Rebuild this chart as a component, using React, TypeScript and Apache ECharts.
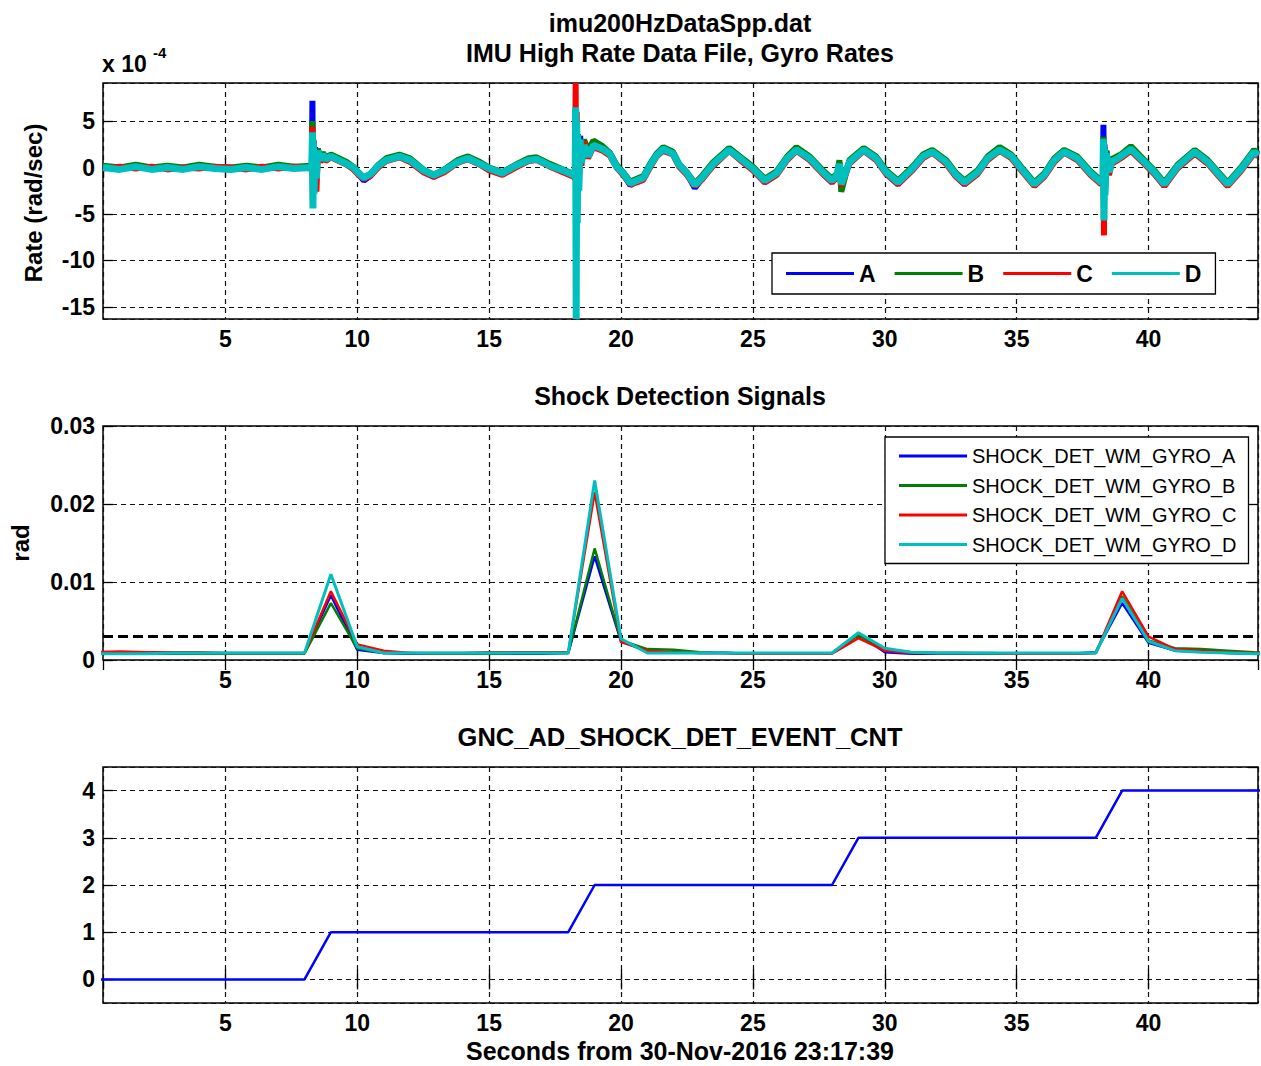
import React, { useEffect, useRef } from "react";
import * as echarts from "echarts";

const FONT = "'Liberation Sans', Arial, sans-serif";

// ---------- Panel 1: gyro rates (x 1e-4 rad/sec) ----------
const gyroTime = [
  0.36, 1.0, 1.6, 2.2, 2.8, 3.4, 4.0, 4.6, 5.2, 5.8, 6.4, 7.0, 7.6, 8.25,
  8.28, 8.30, 8.32, 8.34, 8.36, 8.40, 8.45, 8.50, 8.60, 8.70,
  8.80, 9.00, 9.30, 9.60, 9.85, 10.05, 10.25, 10.50, 10.80, 11.10,
  11.60, 12.00, 12.50, 12.90, 13.30, 13.80, 14.20, 14.65, 15.00, 15.50,
  16.00, 16.50, 16.80, 17.30, 17.80, 18.20,
  18.26, 18.28, 18.30, 18.32, 18.34, 18.36, 18.40, 18.45, 18.50, 18.60,
  18.75, 18.95, 19.30, 19.57, 19.83, 20.08, 20.35, 20.60, 20.85,
  21.10, 21.35, 21.60, 21.97, 22.20, 22.50, 22.80, 23.10,
  23.50, 24.10, 24.60, 25.00, 25.45, 25.90, 26.30, 26.65, 27.15, 27.65, 28.00, 28.20,
  28.28, 28.35, 28.66, 29.20, 29.67, 30.05, 30.50, 31.05, 31.45, 31.80, 32.33,
  32.70, 33.02, 33.52, 33.90, 34.35, 34.80, 35.17, 35.67, 36.05, 36.43, 36.80, 37.30, 37.80, 38.20,
  38.27, 38.29, 38.31, 38.33, 38.35, 38.40, 38.50, 38.60, 38.95, 39.33,
  39.84, 40.22, 40.60, 41.10, 41.75, 42.25, 42.62, 43.00, 43.50, 44.00, 44.15,
];

const gyroA = [
  0.1, -0.1, 0.2, -0.1, 0.1, -0.1, 0.2, 0.0, -0.1, 0.1, -0.1, 0.2, 0.0, 0.1,
  0.5, 7.2, -3.0, 3.0, -2.0, 2.2, -0.8, 2.0, 1.0, 1.5,
  1.0, 1.3, 0.9, 0.5, 0.0, -0.7, -1.4, -0.9, 0.2, 0.9,
  1.3, 0.8, -0.4, -1.0, -0.4, 0.7, 1.1, 0.4, -0.2, -0.7,
  0.2, 0.9, 1.0, 0.3, -0.3, -0.9,
  -1.1, 5.5, -7.1, 4.0, -4.5, 3.6, -1.5, 3.4, 1.0, 2.6,
  1.5, 2.5, 2.1, 1.6, 0.2, -0.7, -1.9, -1.5, -1.2,
  0.2, 1.4, 2.1, 1.6, 0.3, -0.7, -2.2, -1.1,
  0.4, 2.1, 0.9, -0.1, -1.6, -0.7, 1.0, 2.0, 1.1, -0.6, -1.6, -0.9,
  0.5, -1.9, 0.6, 2.0, 1.1, -0.6, -1.8, -0.1, 1.3, 1.8, 0.6,
  -0.9, -1.8, -0.6, 1.0, 2.0, 1.2, -0.1, -1.9, -0.9, 0.8, 1.8, 1.1, -0.7, -1.7,
  -1.3, 4.6, -4.0, 2.5, -2.2, 1.8, -0.3, 0.8, 1.3, 2.1,
  0.6, -0.6, -2.0, 0.1, 1.8, 0.6, -0.7, -1.9, -0.2, 1.8, 1.4,
];

const gyroB = [
  0.2, 0.0, 0.3, 0.0, 0.2, 0.0, 0.3, 0.1, 0.0, 0.2, 0.0, 0.3, 0.1, 0.2,
  0.4, 5.0, -2.5, 2.8, -1.8, 1.8, -0.6, 2.0, 1.2, 1.6,
  1.1, 1.4, 1.0, 0.6, 0.1, -0.5, -1.2, -0.7, 0.3, 1.0,
  1.4, 1.0, -0.2, -0.8, -0.2, 0.8, 1.2, 0.6, 0.0, -0.5,
  0.3, 1.0, 1.1, 0.4, -0.2, -0.7,
  -0.9, 5.0, -2.5, 4.0, -2.0, 3.0, -1.0, 3.0, 1.5, 3.0,
  1.8, 2.9, 2.3, 1.6, 0.3, -0.5, -1.5, -1.2, -0.9,
  0.4, 1.5, 2.2, 1.7, 0.4, -0.5, -1.7, -0.8,
  0.6, 2.1, 1.0, 0.1, -1.2, -0.4, 1.2, 2.2, 1.2, -0.3, -1.2, -0.6,
  0.8, -2.6, 0.8, 2.1, 1.2, -0.3, -1.4, 0.1, 1.4, 1.9, 0.8,
  -0.6, -1.4, -0.3, 1.2, 2.2, 1.4, 0.1, -1.6, -0.6, 1.0, 1.9, 1.2, -0.4, -1.4,
  -1.0, 3.3, -3.5, 2.2, -2.0, 1.8, -0.2, 0.9, 1.4, 2.3,
  0.8, -0.3, -1.6, 0.3, 1.9, 0.8, -0.4, -1.6, 0.0, 1.9, 1.5,
];

const gyroC = [
  -0.1, 0.1, -0.1, 0.1, -0.2, 0.0, -0.1, 0.1, 0.0, -0.2, 0.1, -0.1, 0.1, -0.1,
  0.2, 4.4, -3.7, 2.0, -2.6, 1.2, -2.6, 1.0, 0.6, 1.2,
  0.7, 1.1, 0.7, 0.3, -0.2, -0.8, -1.2, -0.9, 0.0, 0.7,
  1.1, 0.6, -0.5, -1.0, -0.5, 0.5, 0.9, 0.3, -0.3, -0.8,
  0.0, 0.7, 0.8, 0.1, -0.5, -1.0,
  -1.2, 9.1, -3.0, 6.0, -3.5, 3.0, -2.0, 2.6, 0.2, 2.8,
  1.0, 2.2, 1.8, 1.3, 0.0, -0.8, -1.8, -1.6, -1.3,
  0.0, 1.2, 1.8, 1.4, 0.1, -0.8, -2.0, -1.2,
  0.2, 1.8, 0.6, -0.3, -1.6, -0.8, 0.8, 1.8, 0.8, -0.7, -1.6, -1.0,
  0.2, -2.0, 0.4, 1.8, 0.8, -0.7, -1.8, -0.3, 1.0, 1.6, 0.4,
  -1.0, -1.8, -0.7, 0.8, 1.8, 1.0, -0.3, -2.0, -1.0, 0.6, 1.6, 0.8, -0.8, -1.8,
  -1.4, 2.5, -7.3, 1.5, -2.5, 1.2, -0.8, 0.4, 1.0, 1.8,
  0.4, -0.7, -2.0, -0.1, 1.5, 0.4, -0.8, -2.0, -0.4, 1.5, 1.2,
];

const gyroD = [
  0.0, -0.2, 0.1, -0.2, 0.0, -0.2, 0.1, -0.1, -0.2, 0.0, -0.2, 0.1, -0.1, 0.0,
  0.4, 3.8, -4.4, 2.6, -2.8, 1.6, -1.2, 1.8, 0.8, 1.4,
  0.9, 1.2, 0.8, 0.4, 0.0, -0.6, -1.1, -0.7, 0.2, 0.8,
  1.2, 0.8, -0.3, -0.8, -0.3, 0.6, 1.0, 0.4, -0.1, -0.6,
  0.2, 0.8, 0.9, 0.2, -0.3, -0.8,
  -1.0, 6.5, -16.3, 5.0, -6.0, 3.5, -2.5, 3.0, 0.5, 2.4,
  1.2, 2.4, 2.0, 1.5, 0.1, -0.6, -1.7, -1.4, -1.1,
  0.2, 1.3, 2.0, 1.5, 0.3, -0.6, -1.9, -1.0,
  0.4, 1.9, 0.8, -0.1, -1.4, -0.6, 1.0, 1.9, 1.0, -0.5, -1.4, -0.8,
  0.4, -1.8, 0.6, 1.9, 1.0, -0.5, -1.6, -0.1, 1.2, 1.7, 0.6,
  -0.8, -1.6, -0.5, 1.0, 1.9, 1.2, -0.1, -1.8, -0.8, 0.8, 1.7, 1.0, -0.6, -1.6,
  -1.2, 3.1, -5.7, 2.0, -3.0, 1.5, -0.5, 0.6, 1.2, 2.0,
  0.6, -0.5, -1.8, 0.1, 1.7, 0.6, -0.6, -1.8, -0.2, 1.7, 1.3,
];

const gyroNames = ["A", "B", "C", "D"];

// ---------- Panel 2: shock detection signals (rad) ----------
const shockTime = [
  0, 1, 2, 3, 4, 5, 6, 7, 8, 9,
  10, 11, 12, 13, 14, 15, 16, 17, 18, 19,
  20, 21, 22, 23, 24, 25, 26, 27, 28, 29,
  30, 31, 32, 33, 34, 35, 36, 37, 38, 39,
  40, 41, 42, 43, 44, 45,
];
const shockA = [
  0.0008, 0.0008, 0.0008, 0.0008, 0.0008, 0.0008, 0.0008, 0.0008, 0.0009, 0.0083,
  0.0013, 0.0009, 0.0008, 0.0008, 0.0008, 0.0008, 0.0008, 0.0008, 0.0009, 0.0133,
  0.0024, 0.0011, 0.0010, 0.0009, 0.0009, 0.0008, 0.0008, 0.0008, 0.0009, 0.0033,
  0.0010, 0.0008, 0.0008, 0.0008, 0.0008, 0.0008, 0.0008, 0.0008, 0.0010, 0.0073,
  0.0022, 0.0012, 0.0011, 0.0009, 0.0008, 0.0008,
];
const shockB = [
  0.0009, 0.0009, 0.0008, 0.0008, 0.0008, 0.0008, 0.0008, 0.0008, 0.0008, 0.0073,
  0.0015, 0.0009, 0.0009, 0.0008, 0.0008, 0.0008, 0.0009, 0.0009, 0.0009, 0.0143,
  0.0025, 0.0014, 0.0013, 0.0010, 0.0009, 0.0008, 0.0008, 0.0008, 0.0009, 0.0032,
  0.0013, 0.0010, 0.0009, 0.0009, 0.0008, 0.0008, 0.0008, 0.0008, 0.0009, 0.0082,
  0.0025, 0.0015, 0.0014, 0.0012, 0.0010, 0.0009,
];
const shockC = [
  0.0010, 0.0011, 0.0010, 0.0010, 0.0010, 0.0009, 0.0009, 0.0009, 0.0009, 0.0088,
  0.0020, 0.0012, 0.0009, 0.0009, 0.0009, 0.0010, 0.0010, 0.0010, 0.0010, 0.0215,
  0.0023, 0.0012, 0.0010, 0.0009, 0.0009, 0.0008, 0.0008, 0.0008, 0.0008, 0.0028,
  0.0012, 0.0009, 0.0009, 0.0009, 0.0009, 0.0008, 0.0008, 0.0008, 0.0009, 0.0088,
  0.0030, 0.0014, 0.0012, 0.0010, 0.0009, 0.0009,
];
const shockD = [
  0.0008, 0.0008, 0.0008, 0.0009, 0.0009, 0.0009, 0.0009, 0.0009, 0.0009, 0.0110,
  0.0017, 0.0009, 0.0009, 0.0009, 0.0009, 0.0009, 0.0009, 0.0009, 0.0009, 0.0230,
  0.0027, 0.0009, 0.0009, 0.0009, 0.0009, 0.0009, 0.0009, 0.0009, 0.0009, 0.0035,
  0.0015, 0.0010, 0.0009, 0.0009, 0.0009, 0.0009, 0.0009, 0.0009, 0.0009, 0.0079,
  0.0024, 0.0012, 0.0010, 0.0009, 0.0008, 0.0008,
];
const shockNames = [
  "SHOCK_DET_WM_GYRO_A",
  "SHOCK_DET_WM_GYRO_B",
  "SHOCK_DET_WM_GYRO_C",
  "SHOCK_DET_WM_GYRO_D",
];
const shockThreshold = 0.003;

// ---------- Panel 3: event count ----------
const eventCount = [
  0, 0, 0, 0, 0, 0, 0, 0, 0, 1,
  1, 1, 1, 1, 1, 1, 1, 1, 1, 2,
  2, 2, 2, 2, 2, 2, 2, 2, 2, 3,
  3, 3, 3, 3, 3, 3, 3, 3, 3, 4,
  4, 4, 4, 4, 4, 4,
];

const COLORS = ["#0000ff", "#008000", "#ff0000", "#00bfbf"];
const X_MIN = 0.36;
const X_MAX = 44.15;

const zip = (xs: number[], ys: number[]) => xs.map((x, i) => [x, ys[i]]);

const gridLine = { show: true, lineStyle: { color: "#111", type: [5, 4] as any, width: 1.2 } };
const tickStyle = { show: true, inside: true, length: 10, lineStyle: { color: "#000", width: 1.3 } };
const labelBase = { color: "#000", fontSize: 23, fontWeight: "bold" as const, fontFamily: FONT };

function multipleFmt(step: number) {
  return (v: number) => {
    const r = v / step;
    return Math.abs(r - Math.round(r)) < 1e-6 ? String(+v.toFixed(4)) : "";
  };
}

function xPair(gridIndex: number) {
  const common = { type: "value" as const, gridIndex, min: X_MIN, max: X_MAX, minInterval: 5, maxInterval: 5 };
  return [
    {
      ...common,
      position: "bottom",
      axisLine: { show: false },
      axisTick: tickStyle,
      axisLabel: { ...labelBase, margin: 8, showMinLabel: false, showMaxLabel: false, formatter: multipleFmt(5) },
      splitLine: gridLine,
    },
    {
      ...common,
      position: "top",
      axisLine: { show: false },
      axisTick: tickStyle,
      axisLabel: { show: false },
      splitLine: { show: false },
    },
  ];
}

function yPair(gridIndex: number, min: number, max: number, step: number) {
  const common: any = { type: "value", gridIndex, min, max };
  if ((min / step) % 1 === 0) common.interval = step;
  else {
    common.minInterval = step;
    common.maxInterval = step;
  }
  return [
    {
      ...common,
      position: "left",
      axisLine: { show: false },
      axisTick: tickStyle,
      axisLabel: { ...labelBase, margin: 8, showMinLabel: (min / step) % 1 === 0, showMaxLabel: (max / step) % 1 === 0, formatter: multipleFmt(step) },
      splitLine: gridLine,
    },
    {
      ...common,
      position: "right",
      axisLine: { show: false },
      axisTick: tickStyle,
      axisLabel: { show: false },
      splitLine: { show: false },
    },
  ];
}

function txt(text: string, x: number, y: number, size: number, extra: any = {}) {
  return {
    type: "text",
    x,
    y,
    z: 10,
    ...extra,
    style: {
      text,
      fill: "#000",
      fontSize: size,
      fontWeight: extra.weight || "bold",
      fontFamily: FONT,
      align: extra.align || "center",
      verticalAlign: "middle",
    },
  };
}

export default function App() {
  const ref = useRef<HTMLDivElement>(null);
  useEffect(() => {
    document.body.style.margin = "0";
    const chart = echarts.init(ref.current!, null, { renderer: "svg" });
    const gridBase = { show: true, borderColor: "#000", borderWidth: 1.5, backgroundColor: "#fff", containLabel: false };
    const gyroData = [gyroA, gyroB, gyroC, gyroD];
    const shockData = [shockA, shockB, shockC, shockD];

    const series: any[] = [];
    gyroNames.forEach((n, i) => {
      series.push({
        name: n,
        type: "line",
        xAxisIndex: 0,
        yAxisIndex: 0,
        data: zip(gyroTime, gyroData[i]),
        showSymbol: false,
        symbol: "none",
        color: COLORS[i],
        lineStyle: { color: COLORS[i], width: i === 3 ? 7 : 6 },
        z: 2 + i,
      });
    });
    series.push({
      name: "threshold",
      type: "line",
      xAxisIndex: 2,
      yAxisIndex: 2,
      data: [
        [X_MIN, shockThreshold],
        [X_MAX, shockThreshold],
      ],
      showSymbol: false,
      symbol: "none",
      color: "#000",
      lineStyle: { color: "#000", type: [10, 5], width: 3 },
      z: 1,
    });
    shockNames.forEach((n, i) => {
      series.push({
        name: n,
        type: "line",
        xAxisIndex: 2,
        yAxisIndex: 2,
        data: zip(shockTime, shockData[i]),
        showSymbol: false,
        symbol: "none",
        color: COLORS[i],
        lineStyle: { color: COLORS[i], width: i === 3 ? 3 : 2.5 },
        z: 2 + i,
      });
    });
    series.push({
      name: "GNC_AD_SHOCK_DET_EVENT_CNT",
      type: "line",
      xAxisIndex: 4,
      yAxisIndex: 4,
      data: zip(shockTime, eventCount),
      showSymbol: false,
      symbol: "none",
      color: COLORS[0],
      lineStyle: { color: COLORS[0], width: 2.5 },
    });

    const option: any = {
      animation: false,
      backgroundColor: "#fff",
      textStyle: { fontFamily: FONT },
      grid: [
        { ...gridBase, left: 103, top: 83, width: 1155, height: 236 },
        { ...gridBase, left: 103, top: 426, width: 1155, height: 234 },
        { ...gridBase, left: 103, top: 767, width: 1155, height: 236 },
      ],
      xAxis: [...xPair(0), ...xPair(1), ...xPair(2)],
      yAxis: [...yPair(0, -16.3, 9.1, 5), ...yPair(1, 0, 0.03, 0.01), ...yPair(2, -0.5, 4.5, 1)],
      legend: [
        {
          data: gyroNames,
          orient: "horizontal",
          left: 772,
          top: 253,
          icon: "rect",
          itemWidth: 68,
          itemHeight: 3,
          itemGap: 19,
          padding: [9, 14, 9, 14],
          borderColor: "#000",
          borderWidth: 1.3,
          backgroundColor: "#fff",
          selectedMode: false,
          textStyle: { color: "#000", fontSize: 23, fontWeight: "bold", fontFamily: FONT },
        },
        {
          data: shockNames,
          orient: "vertical",
          left: 885,
          top: 437,
          icon: "rect",
          itemWidth: 68,
          itemHeight: 3,
          itemGap: 9.5,
          padding: [9, 12, 9, 14],
          borderColor: "#000",
          borderWidth: 1.3,
          backgroundColor: "#fff",
          selectedMode: false,
          textStyle: { color: "#000", fontSize: 20, lineHeight: 20, fontFamily: FONT },
        },
      ],
      graphic: [
        txt("imu200HzDataSpp.dat", 680, 23, 25),
        txt("IMU High Rate Data File, Gyro Rates", 680, 53, 25),
        txt("x 10", 102, 64, 23, { align: "left" }),
        txt("-4", 153, 52, 15, { align: "left" }),
        txt("Rate (rad/sec)", 33, 203, 24, { rotation: Math.PI / 2 }),
        txt("Shock Detection Signals", 680, 396, 25),
        txt("rad", 20, 543, 24, { rotation: Math.PI / 2 }),
        txt("GNC_AD_SHOCK_DET_EVENT_CNT", 680, 737, 25.5),
        txt("Seconds from 30-Nov-2016 23:17:39", 680, 1051, 25),
      ],
      series,
    };
    chart.setOption(option);
    return () => chart.dispose();
  }, []);
  return <div ref={ref} style={{ width: 1261, height: 1066, background: "#fff" }} />;
}
